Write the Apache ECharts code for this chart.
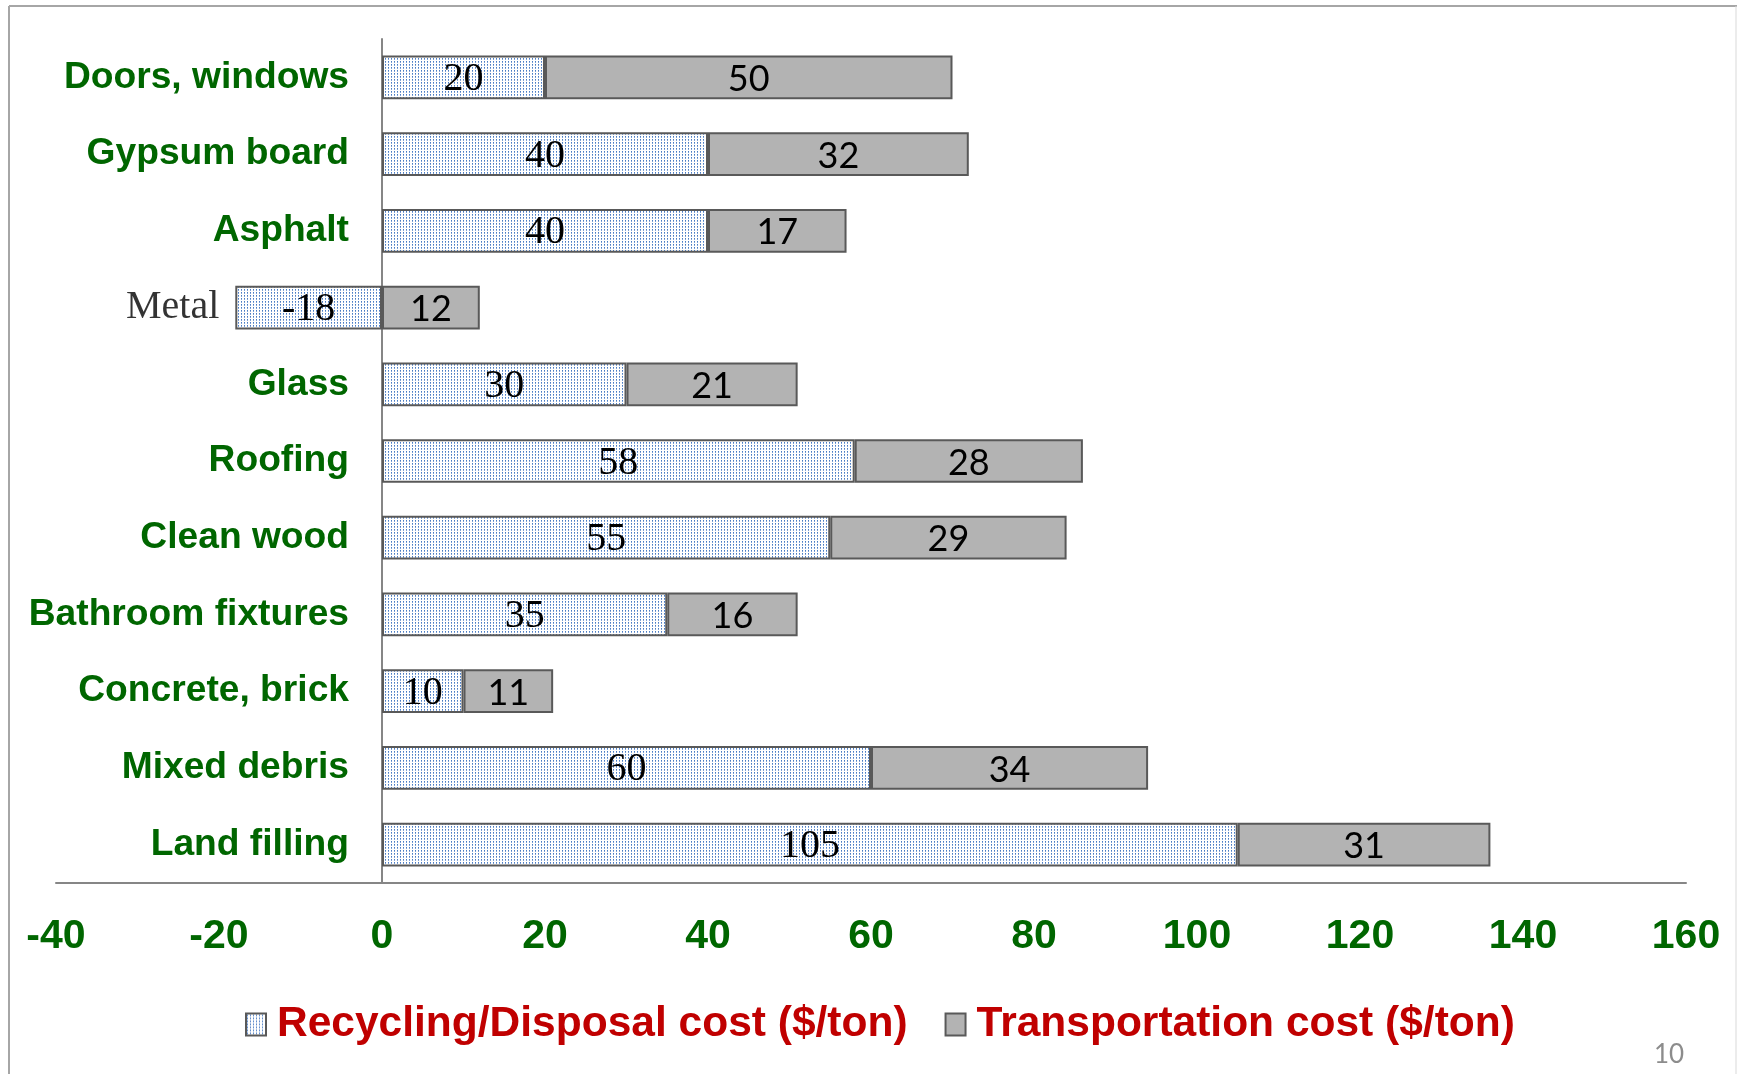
<!DOCTYPE html>
<html>
<head>
<meta charset="utf-8">
<script src="https://cdn.jsdelivr.net/npm/echarts@6/dist/echarts.min.js"></script>
<style>
html, body { margin: 0; padding: 0; background: #fff; }
#main { width: 1737px; height: 1074px; }
</style>
</head>
<body>
<div id="main"></div>
<script>
// data
var categories = ['Doors, windows', 'Gypsum board', 'Asphalt', 'Metal', 'Glass', 'Roofing', 'Clean wood', 'Bathroom fixtures', 'Concrete, brick', 'Mixed debris', 'Land filling'];
var recycling = [20, 40, 40, -18, 30, 58, 55, 35, 10, 60, 105];
var transport = [50, 32, 17, 12, 21, 28, 29, 16, 11, 34, 31];
var xTicks = [-40, -20, 0, 20, 40, 60, 80, 100, 120, 140, 160];
var seriesNames = ['Recycling/Disposal cost ($/ton)', 'Transportation cost ($/ton)'];

var green = '#006600';
var metalIdx = categories.indexOf('Metal');

// dotted light blue fill like the office pattern
var pat = document.createElement('canvas');
pat.width = 3; pat.height = 3;
var ctx = pat.getContext('2d');
ctx.fillStyle = '#ffffff';
ctx.fillRect(0, 0, 3, 3);
ctx.fillStyle = '#4a7dc4';
ctx.fillRect(1, 1, 1, 1);
ctx.fillStyle = '#7fa2d6';
ctx.fillRect(1, 2, 1, 1);

var chart = echarts.init(document.getElementById('main'));

var gridLeft = 56, gridRight = 51;
// category labels hang off the zero line, not the grid edge
var zeroX = gridLeft + (0 - xTicks[0]) / (xTicks[xTicks.length - 1] - xTicks[0]) * (1737 - gridLeft - gridRight);

var option = {
    animation: false,
    grid: { left: gridLeft, right: gridRight, top: 39, bottom: 191, outerBoundsMode: 'none' },
    legend: {
        data: seriesNames,
        left: 240,
        top: 998,
        icon: 'rect',
        itemWidth: 20,
        itemHeight: 22,
        itemGap: 37,
        itemStyle: { borderColor: '#595959', borderWidth: 2 },
        textStyle: { color: '#c00000', fontSize: 42.5, fontWeight: 'bold', fontFamily: 'Liberation Sans', padding: [0, 0, 0, 6] }
    },
    xAxis: {
        type: 'value',
        min: xTicks[0],
        max: xTicks[xTicks.length - 1],
        interval: xTicks[1] - xTicks[0],
        splitLine: { show: false },
        axisTick: { show: false },
        axisLine: { show: true, lineStyle: { color: '#868686', width: 2 } },
        axisLabel: { color: green, fontSize: 41, fontWeight: 'bold', fontFamily: 'Liberation Sans', margin: 33 }
    },
    yAxis: {
        type: 'category',
        inverse: true,
        data: categories,
        axisTick: { show: false },
        axisLine: { show: true, onZero: true, lineStyle: { color: '#868686', width: 2 } },
        axisLabel: {
            color: green, fontSize: 37.2, fontWeight: 'bold', fontFamily: 'Liberation Sans',
            margin: -(zeroX - gridLeft - 33),
            formatter: function (v) { return v === 'Metal' ? '' : v; }
        }
    },
    series: [
        {
            name: seriesNames[0],
            type: 'bar',
            stack: 'cost',
            barCategoryGap: '43%',
            data: recycling,
            itemStyle: { color: { image: pat, repeat: 'repeat' }, borderColor: '#595959', borderWidth: 2 },
            label: { show: true, position: 'inside', color: '#000', fontSize: 40, fontFamily: 'Liberation Serif', offset: [0, 2] }
        },
        {
            name: seriesNames[1],
            type: 'bar',
            stack: 'cost',
            data: transport,
            itemStyle: { color: '#b3b3b3', borderColor: '#595959', borderWidth: 2 },
            label: { show: true, position: 'inside', color: '#000', fontSize: 36, fontFamily: 'Lato', offset: [0, 2] }
        },
        {
            // "Metal" sits left of its negative bar in the original
            type: 'scatter',
            silent: true,
            symbolSize: 0,
            data: [[recycling[metalIdx], categories[metalIdx]]],
            label: { show: true, position: 'left', distance: 16, formatter: categories[metalIdx], color: '#000', fontSize: 40, fontFamily: 'Liberation Serif' }
        }
    ],
    graphic: [
        { type: 'line', shape: { x1: 9, y1: 6, x2: 1737, y2: 6 }, style: { stroke: '#a6a6a6', lineWidth: 2 } },
        { type: 'line', shape: { x1: 9, y1: 6, x2: 9, y2: 1074 }, style: { stroke: '#a6a6a6', lineWidth: 2 } },
        { type: 'line', shape: { x1: 1736, y1: 6, x2: 1736, y2: 1074 }, style: { stroke: '#d9d9d9', lineWidth: 1 } },
        { type: 'text', left: 1654, top: 1042, style: { text: '10', fill: '#8c8c8c', font: '26px Lato' } }
    ]
};

chart.setOption(option);
</script>
</body>
</html>
